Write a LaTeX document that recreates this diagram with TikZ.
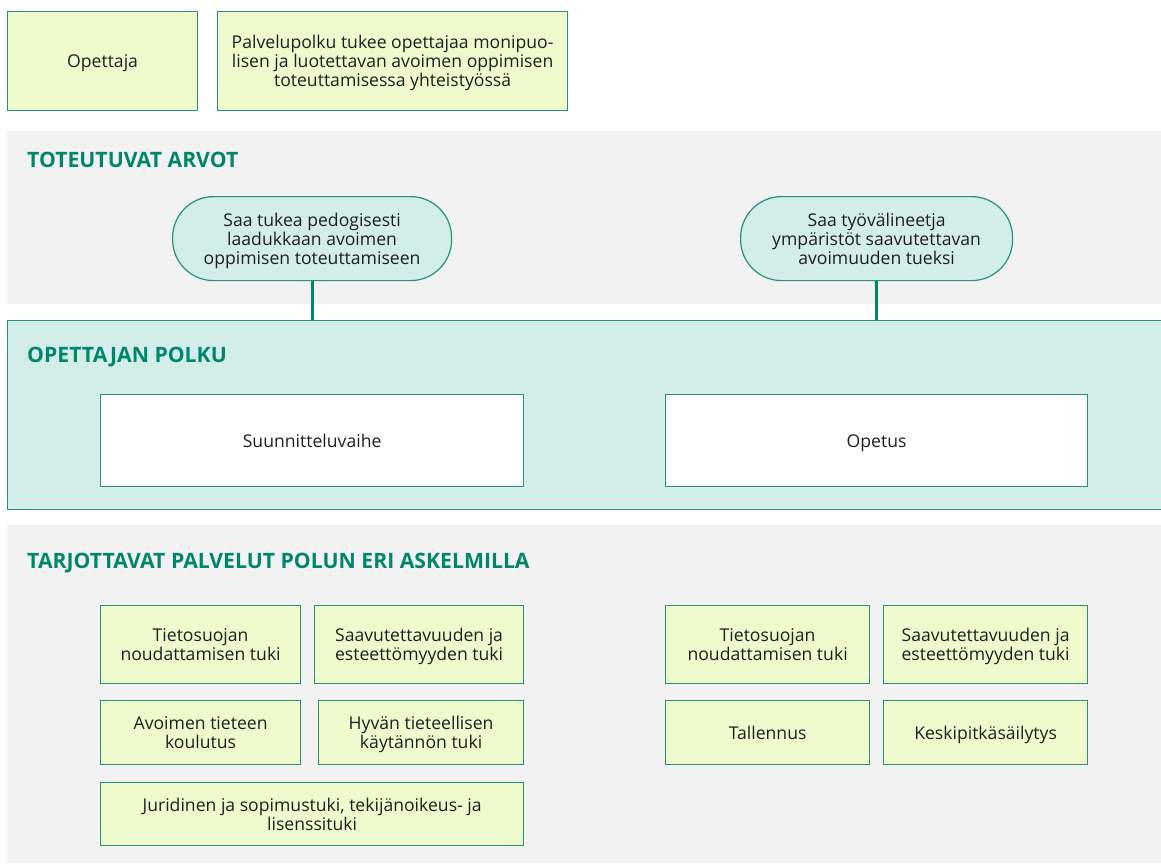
\documentclass[tikz,border=0pt]{standalone}
\usepackage{fontspec}
\setmainfont{Open Sans}
\definecolor{teal}{HTML}{24937A}
\definecolor{headc}{HTML}{00876A}
\definecolor{graybg}{HTML}{F2F2F2}
\definecolor{mint}{HTML}{D3EDE8}
\definecolor{lime}{HTML}{EFFACD}
\begin{document}
\begin{tikzpicture}[x=1pt,y=-1pt,
  txt/.style={font=\fontsize{17.6}{19}\selectfont, align=center, text=black!88, text height=19pt, execute at end node=\strut},
  two/.style={text height=38pt},
  three/.style={text height=57pt},
  box/.style={txt, draw=teal, line width=1.2pt, fill=lime, inner sep=0pt, anchor=north west},
  whitebox/.style={txt, draw=teal, line width=1.2pt, fill=white, inner sep=0pt, anchor=north west},
  pill/.style={txt, draw=teal, line width=1.2pt, fill=mint, inner sep=0pt, rounded corners=41pt, anchor=north west},
  band/.style={inner sep=0pt, anchor=north west},
  heading/.style={font=\fontsize{21.2}{24}\selectfont\bfseries, text=headc, anchor=west, inner sep=0pt},
  conn/.style={draw=headc, line width=3pt}]
\useasboundingbox (0,0) rectangle (1161,863);
% bands
\node[band, fill=graybg, minimum width=1154pt, minimum height=173pt] (b1) at (7,131) {};
\node[band, fill=mint, draw=teal, line width=1.2pt, minimum width=1160pt, minimum height=189pt] (b2) at (7,320) {};
\node[band, fill=graybg, minimum width=1154pt, minimum height=338pt] (b3) at (7,525) {};
% top boxes
\node[box, minimum width=190pt, minimum height=99pt] (opettaja) at (7,11) {Opettaja};
\node[box, three, minimum width=350pt, minimum height=99pt] (intro) at (217,11) {Palvelupolku tukee opettajaa monipuo-\\lisen ja luotettavan avoimen oppimisen\\toteuttamisessa yhteistyössä};
% headings
\node[heading] (h1) at (27,160) {TOTEUTUVAT ARVOT};
\node[heading] (h2) at (27,357) {OPETTAJAN POLKU};
\node[heading] (h3) at (27,563) {TARJOTTAVAT PALVELUT POLUN ERI ASKELMILLA};
% pills
\node[pill, three, minimum width=279pt, minimum height=84pt] (p1) at (172,196) {Saa tukea pedogisesti\\laadukkaan avoimen\\oppimisen toteuttamiseen};
\node[pill, three, minimum width=272pt, minimum height=84pt] (p2) at (740,196) {Saa työvälineetja\\ympäristöt saavutettavan\\avoimuuden tueksi};
\draw[conn] (p1.south) -- (p1.south |- b2.north);
\draw[conn] (p2.south) -- (p2.south |- b2.north);
% path boxes
\node[whitebox, minimum width=423pt, minimum height=92pt] (suun) at (100,394) {Suunnitteluvaihe};
\node[whitebox, minimum width=422pt, minimum height=92pt] (opetus) at (665,394) {Opetus};
% services left
\node[box, two, minimum width=200pt, minimum height=78pt] (s1) at (100,605) {Tietosuojan\\noudattamisen tuki};
\node[box, two, minimum width=209pt, minimum height=78pt] (s2) at (314,605) {Saavutettavuuden ja\\esteettömyyden tuki};
\node[box, two, minimum width=200pt, minimum height=64pt] (s3) at (100,700) {Avoimen tieteen\\koulutus};
\node[box, two, minimum width=205pt, minimum height=64pt] (s4) at (318,700) {Hyvän tieteellisen\\käytännön tuki};
\node[box, two, minimum width=423pt, minimum height=63pt] (s5) at (100,782) {Juridinen ja sopimustuki, tekijänoikeus- ja\\lisenssituki};
% services right
\node[box, two, minimum width=204pt, minimum height=78pt] (r1) at (665,605) {Tietosuojan\\noudattamisen tuki};
\node[box, two, minimum width=204pt, minimum height=78pt] (r2) at (883,605) {Saavutettavuuden ja\\esteettömyyden tuki};
\node[box, minimum width=204pt, minimum height=64pt] (r3) at (665,700) {Tallennus};
\node[box, minimum width=204pt, minimum height=64pt] (r4) at (883,700) {Keskipitkäsäilytys};
\end{tikzpicture}
\end{document}
